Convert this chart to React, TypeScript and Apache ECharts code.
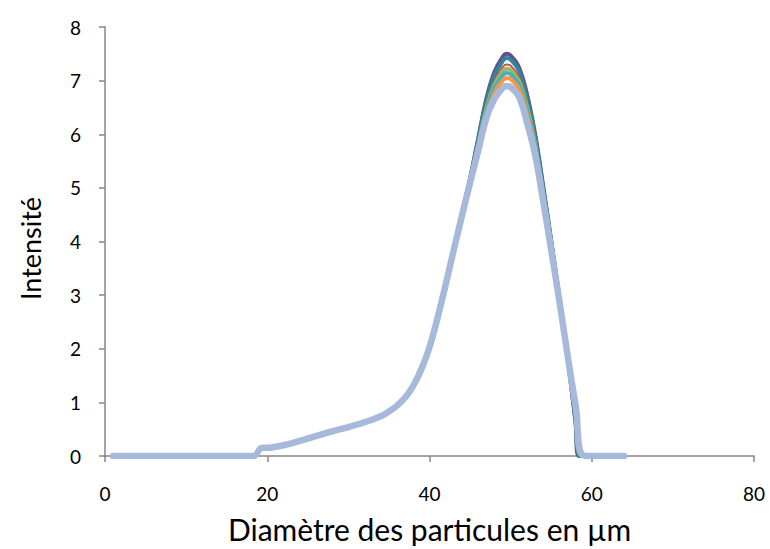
import React, { useEffect, useRef } from "react";
import * as echarts from "echarts";

// Shared rising part of the distribution (identical for all runs)
const xRise = [1, 18.3, 18.3, 19.3, 19.3, 20.5, 22, 24, 26, 28, 30, 32, 34, 35, 36, 37, 38, 39, 40, 41, 42, 43];
const yRise = [0, 0, 0, 0.15, 0.15, 0.16, 0.2, 0.28, 0.37, 0.46, 0.54, 0.63, 0.74, 0.83, 0.94, 1.09, 1.31, 1.62, 2.03, 2.58, 3.2, 3.85];

// Peak region abscissae
const xPeak = [44, 45, 46, 47, 48, 49, 49.5, 50, 51, 52, 53, 54, 55, 56, 57, 58];

const purple = [4.53, 5.18, 5.92, 6.66, 7.16, 7.44, 7.5, 7.47, 7.26, 6.76, 6.02, 5.05, 4.02, 2.96, 1.85, 0.62];
const teal = [4.52, 5.16, 5.89, 6.61, 7.09, 7.36, 7.42, 7.39, 7.19, 6.7, 5.97, 5.01, 4.0, 2.95, 1.86, 0.67];
const red = [4.51, 5.14, 5.84, 6.54, 6.99, 7.25, 7.3, 7.28, 7.08, 6.6, 5.89, 4.96, 3.96, 2.94, 1.87, 0.74];
const green = [4.5, 5.12, 5.8, 6.48, 6.92, 7.17, 7.22, 7.2, 7.0, 6.53, 5.84, 4.92, 3.94, 2.93, 1.87, 0.78];
const aqua = [4.49, 5.11, 5.77, 6.43, 6.86, 7.09, 7.14, 7.12, 6.93, 6.46, 5.79, 4.88, 3.91, 2.92, 1.88, 0.83];
const orange = [4.49, 5.1, 5.73, 6.36, 6.77, 7.0, 7.05, 7.03, 6.85, 6.38, 5.73, 4.84, 3.89, 2.91, 1.89, 0.88];
const lightBlue = [4.48, 5.09, 5.69, 6.3, 6.66, 6.86, 6.9, 6.88, 6.71, 6.23, 5.63, 4.77, 3.84, 2.9, 1.9, 0.96];

// Where each run returns to zero, and the end of the measured range
const zeroAt = [58.4, 58.55, 58.7, 58.8, 58.9, 59.05, 59.2];
const xEnd = 64;

const seriesNames = ["Mesure 1", "Mesure 2", "Mesure 3", "Mesure 4", "Mesure 5", "Mesure 6", "Mesure 7"];
const seriesValues = [purple, teal, red, green, aqua, orange, lightBlue];
const colors = ["#654E8C", "#31849B", "#C0504D", "#9BBB59", "#4BACC6", "#F79646", "#A6B9DB"];
const widths = [4, 4, 2, 4, 4, 4, 6.5];

const xTicks = [0, 20, 40, 60, 80];

function buildData(tail: number[], zero: number): number[][] {
  const pts: number[][] = [];
  xRise.forEach((x, i) => pts.push([x, yRise[i]]));
  xPeak.forEach((x, i) => pts.push([x, tail[i]]));
  pts.push([zero, 0]);
  pts.push([zero, 0]);
  pts.push([xEnd, 0]);
  return pts;
}

export default function App() {
  const ref = useRef<HTMLDivElement>(null);
  useEffect(() => {
    if (!ref.current) return;
    const chart = echarts.init(ref.current, undefined, { renderer: "svg" });
    const axisColor = "#868686";
    const font = "Lato, 'Open Sans', sans-serif";
    chart.setOption({
      animation: false,
      backgroundColor: "#ffffff",
      grid: { left: 105, right: 16, top: 27, bottom: 91, containLabel: false },
      xAxis: {
        type: "value",
        min: 0,
        max: 80,
        interval: 20,
        name: "Diamètre des particules en µm",
        nameLocation: "middle",
        nameGap: 58,
        nameTextStyle: { fontSize: 30, color: "#000", fontFamily: font },
        axisLine: { lineStyle: { color: axisColor, width: 1.5 } },
        axisTick: { show: true, inside: false, length: 6, lineStyle: { color: axisColor, width: 1.5 } },
        axisLabel: { fontSize: 19, color: "#000", fontFamily: font, margin: 28,
          formatter: (v: number) => (xTicks.includes(v) ? String(v) : "") },
        splitLine: { show: false },
      },
      yAxis: {
        type: "value",
        min: 0,
        max: 8,
        interval: 1,
        name: "Intensité",
        nameLocation: "middle",
        nameGap: 61,
        nameTextStyle: { fontSize: 27, color: "#000", fontFamily: font, padding: [0, 14, 0, 0] },
        axisLine: { show: true, lineStyle: { color: axisColor, width: 1.5 } },
        axisTick: { show: true, inside: false, length: 6, lineStyle: { color: axisColor, width: 1.5 } },
        axisLabel: { fontSize: 19, color: "#000", fontFamily: font, margin: 24 },
        splitLine: { show: false },
      },
      series: seriesValues.map((vals, i) => ({
        name: seriesNames[i],
        type: "line",
        data: buildData(vals, zeroAt[i]),
        showSymbol: false,
        symbol: "none",
        smooth: 0.4,
        lineStyle: { color: colors[i], width: widths[i], cap: "round", join: "round" },
        itemStyle: { color: colors[i] },
        z: 2 + i,
      })),
    });
    return () => chart.dispose();
  }, []);
  return (
    <div
      ref={ref}
      style={{ position: "fixed", left: 0, top: 0, width: 770, height: 549, background: "#fff" }}
    />
  );
}
